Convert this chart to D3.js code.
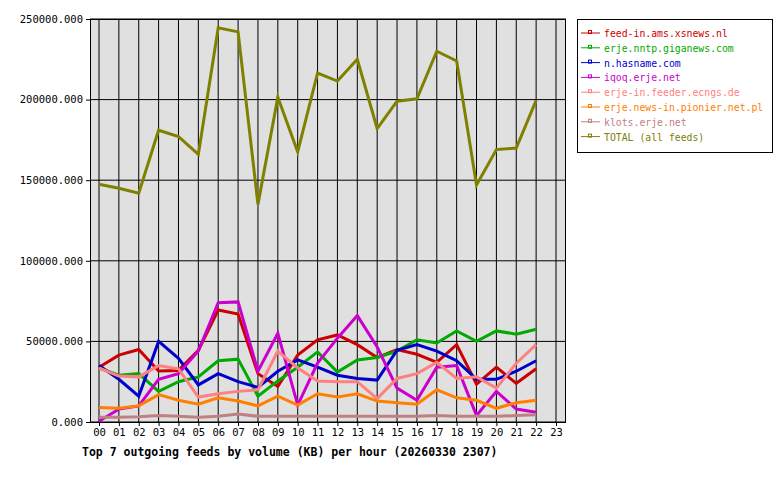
<!DOCTYPE html>
<html><head><meta charset="utf-8">
<script src="https://cdn.jsdelivr.net/npm/d3@7"></script>
<style>body{margin:0;background:#fff}</style></head>
<body><svg id="c" width="780" height="480"></svg>
<script>
const hours = ["00","01","02","03","04","05","06","07","08","09","10","11","12","13","14","15","16","17","18","19","20","21","22","23"];
const yTicks = [0,50000,100000,150000,200000,250000];
const names = ["feed-in.ams.xsnews.nl","erje.nntp.giganews.com","n.hasname.com","iqoq.erje.net","erje-in.feeder.ecngs.de","erje.news-in.pionier.net.pl","klots.erje.net","TOTAL (all feeds)"];
const colors = ["#cc0000","#00aa00","#0000cc","#cc00cc","#ff8080","#ff8000","#c08080","#808000"];
const feedAms = [34000,41500,45000,31600,32000,44500,69500,67000,30000,22000,41500,51000,54000,48000,40000,45000,42000,37000,48000,23500,34000,24000,33000];
const giganews = [33500,29000,30000,19000,25000,28000,38000,39000,16000,25500,34000,43500,31000,38500,40000,44000,51000,49000,56500,50000,56500,54500,57500];
const hasname = [35000,26500,16000,50000,39500,23000,30000,25000,21500,31500,38500,34000,29000,27000,26000,44500,48000,44000,38000,26500,26500,31500,38000];
const iqoq = [500,8000,10000,26500,30000,44000,74000,74500,31500,55000,10500,36500,52000,66000,46500,21000,13500,34000,35000,4000,19000,8000,6000];
const ecngs = [33500,28500,28000,35000,33000,15500,17500,19000,20000,44000,33500,25500,25000,25000,14500,27000,30000,37000,27000,28000,21000,36500,48000];
const pionier = [9000,8500,10000,17000,13500,11000,15000,13000,10000,16000,10500,17500,15500,17500,13000,12000,11000,20000,15000,13500,8500,12000,13500];
const klots = [3000,3000,3200,4000,3500,3000,3500,5000,3500,3500,3500,3500,3500,3500,3500,3500,3500,4000,3500,3500,3500,4000,4500];
const total = [147500,145000,142000,181000,177000,166000,244500,242000,135000,201500,167500,216500,211500,225000,182000,199000,200500,230000,224000,147000,169000,170000,199500];
const series = [feedAms,giganews,hasname,iqoq,ecngs,pionier,klots,total];

const svg = d3.select("#c");
const font = "'DejaVu Sans Mono', monospace";
const L=90,R=566,T=19,B=422;
svg.append("rect").attr("x",L).attr("y",T).attr("width",R-L).attr("height",B-T).attr("fill","#e0e0e0");
const x = d3.scalePoint().domain(hours).range([99,556]);
const y = d3.scaleLinear().domain([0,250000]).range([B,T]);
hours.forEach(h=>svg.append("line").attr("x1",x(h)).attr("x2",x(h)).attr("y1",T).attr("y2",B).attr("stroke","#000"));
yTicks.forEach(v=>svg.append("line").attr("x1",L).attr("x2",R).attr("y1",y(v)).attr("y2",y(v)).attr("stroke","#000"));
svg.append("rect").attr("x",L+0.5).attr("y",T+0.5).attr("width",R-L-1).attr("height",B-T).attr("fill","none").attr("stroke","#000");
const xa = svg.append("g").attr("transform",`translate(0,${B})`).call(d3.axisBottom(x).tickSize(4).tickSizeOuter(0));
xa.select(".domain").remove();
xa.selectAll("text").attr("font-family",font).attr("font-size",10.5).attr("fill","#000");
const ya = svg.append("g").attr("transform",`translate(${L},0)`).call(d3.axisLeft(y).tickValues(yTicks).tickFormat(d=>d.toFixed(3)).tickSize(4).tickSizeOuter(0));
ya.select(".domain").remove();
ya.selectAll("text").attr("font-family",font).attr("font-size",10.5).attr("fill","#000");
const line = d3.line().x((d,i)=>x(hours[i])).y(d=>y(d));
series.forEach((s,k)=>svg.append("path").datum(s).attr("d",line).attr("fill","none").attr("stroke",colors[k]).attr("stroke-width",3));
svg.append("text").attr("x",82).attr("y",456).attr("font-family",font).attr("font-size",11.5).attr("font-weight","bold").text("Top 7 outgoing feeds by volume (KB) per hour (20260330 2307)");
svg.append("rect").attr("x",577.5).attr("y",19.5).attr("width",195).attr("height",133).attr("fill","#fff").attr("stroke","#000");
names.forEach((n,i)=>{
  const yy=33+i*14.8;
  svg.append("line").attr("x1",581).attr("x2",600).attr("y1",yy).attr("y2",yy).attr("stroke",colors[i]).attr("stroke-width",1);
  svg.append("rect").attr("x",588.5).attr("y",yy-2.5).attr("width",3).attr("height",3).attr("fill","none").attr("stroke",colors[i]);
  svg.append("text").attr("x",604).attr("y",yy+4).attr("font-family",font).attr("font-size",9.8).attr("fill",colors[i]).text(n);
});
</script></body></html>
